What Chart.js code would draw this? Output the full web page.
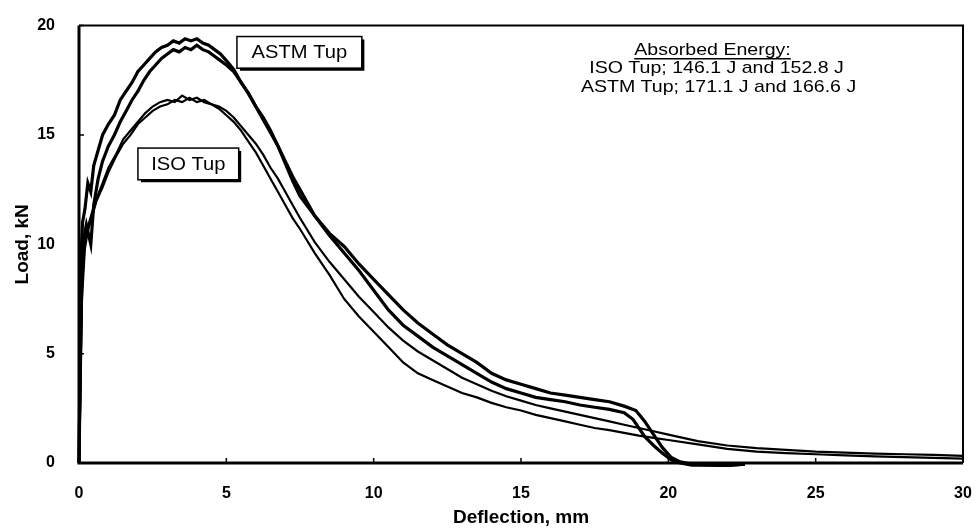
<!DOCTYPE html>
<html>
<head>
<meta charset="utf-8">
<script src="https://cdn.jsdelivr.net/npm/chart.js@4.4.1/dist/chart.umd.min.js"></script>
<style>
  html, body { margin: 0; padding: 0; background: #fff; }
  #wrap { width: 977px; height: 531px; }
</style>
</head>
<body>
<div id="wrap"><canvas id="myChart" width="977" height="531"></canvas></div>
<script>
// load vs deflection curves, two tests per tup

const astmAx = [0, 0.05, 0.08, 0.12, 0.2, 0.3, 0.4, 0.5, 0.65, 0.8, 1.0, 1.2, 1.4, 1.6, 1.8, 2.0, 2.2, 2.4, 2.6, 2.8, 3.0, 3.2, 3.4, 3.6, 3.8, 4.0, 4.2, 4.4, 4.6, 4.8, 5.0, 5.25, 5.5, 5.75, 6.0, 6.25, 6.5, 6.75, 7.0, 7.25, 7.5, 8.0, 8.5, 9.0, 9.5, 10.0, 10.5, 11.0, 11.5, 12.0, 12.5, 13.0, 13.5, 14.0, 14.5, 15.0, 15.5, 16.0, 16.5, 17.0, 17.5, 18.0, 18.5, 18.9, 19.2, 19.5, 19.8, 20.1, 20.4, 20.8, 21.5, 22.0, 22.6];
const astmAy = [0, 6.5, 9.8, 11.0, 11.6, 12.8, 12.4, 13.6, 14.3, 15.0, 15.5, 15.9, 16.6, 17.0, 17.4, 17.9, 18.2, 18.5, 18.8, 19.0, 19.1, 19.3, 19.2, 19.4, 19.3, 19.4, 19.2, 19.1, 18.9, 18.7, 18.4, 18.0, 17.4, 16.9, 16.3, 15.8, 15.2, 14.5, 13.7, 12.9, 12.2, 11.3, 10.5, 9.9, 9.1, 8.4, 7.7, 7.0, 6.4, 5.9, 5.4, 5.0, 4.6, 4.1, 3.8, 3.6, 3.4, 3.2, 3.1, 3.0, 2.9, 2.8, 2.6, 2.4, 1.9, 1.3, 0.7, 0.25, 0.05, -0.05, -0.1, -0.1, -0.05];

const astmBx = [0, 0.05, 0.1, 0.15, 0.25, 0.4, 0.5, 0.65, 0.8, 1.0, 1.2, 1.4, 1.6, 1.8, 2.0, 2.2, 2.4, 2.6, 2.8, 3.0, 3.2, 3.4, 3.6, 3.8, 4.0, 4.2, 4.4, 4.6, 4.8, 5.0, 5.25, 5.5, 5.75, 6.0, 6.25, 6.5, 6.75, 7.0, 7.25, 7.5, 8.0, 8.5, 9.0, 9.5, 10.0, 10.5, 11.0, 11.5, 12.0, 12.5, 13.0, 13.5, 14.0, 14.5, 15.0, 15.5, 16.0, 16.5, 17.0, 17.5, 18.0, 18.5, 18.8, 19.2, 19.5, 19.8, 20.1, 20.4, 20.8, 21.5, 22.0, 22.6];
const astmBy = [0, 5.0, 8.5, 10.2, 10.9, 10.0, 11.8, 13.0, 13.8, 14.5, 15.0, 15.6, 16.1, 16.6, 17.0, 17.5, 17.9, 18.2, 18.5, 18.7, 18.9, 18.8, 19.0, 18.9, 19.1, 18.9, 18.8, 18.6, 18.4, 18.2, 17.9, 17.4, 16.9, 16.3, 15.7, 15.1, 14.5, 13.8, 13.1, 12.5, 11.3, 10.4, 9.6, 8.8, 7.9, 7.0, 6.3, 5.8, 5.3, 4.9, 4.5, 4.1, 3.7, 3.4, 3.2, 3.0, 2.9, 2.8, 2.65, 2.55, 2.45, 2.3, 2.0, 1.2, 0.8, 0.45, 0.15, 0.0, -0.1, -0.1, -0.12, -0.05];

const isoAx = [0, 0.05, 0.1, 0.2, 0.3, 0.45, 0.6, 0.8, 1.0, 1.25, 1.5, 1.75, 2.0, 2.25, 2.5, 2.75, 3.0, 3.25, 3.5, 3.75, 4.0, 4.25, 4.5, 4.75, 5.0, 5.25, 5.5, 5.75, 6.0, 6.25, 6.5, 6.75, 7.0, 7.25, 7.5, 8.0, 8.5, 9.0, 9.5, 10.0, 10.5, 11.0, 11.5, 12.0, 12.5, 13.0, 13.5, 14.0, 14.5, 15.0, 15.5, 16.0, 16.5, 17.0, 17.5, 18.0, 18.5, 19.0, 19.5, 20.0, 21, 22, 23, 24, 25, 26, 27, 28, 29, 30];
const isoAy = [0, 4.0, 8.0, 10.2, 10.8, 11.5, 12.1, 12.8, 13.5, 14.1, 14.8, 15.2, 15.6, 16.0, 16.3, 16.5, 16.6, 16.5, 16.8, 16.6, 16.7, 16.5, 16.4, 16.2, 15.9, 15.6, 15.2, 14.7, 14.2, 13.6, 13.0, 12.4, 11.8, 11.2, 10.7, 9.6, 8.6, 7.5, 6.7, 6.0, 5.3, 4.6, 4.1, 3.8, 3.5, 3.2, 3.0, 2.75, 2.55, 2.4, 2.2, 2.05, 1.9, 1.75, 1.6, 1.5, 1.38, 1.25, 1.15, 1.05, 0.85, 0.65, 0.52, 0.45, 0.4, 0.35, 0.3, 0.27, 0.23, 0.2];

const isoBx = isoAx;
const isoBy = [0, 3.0, 7.5, 9.8, 10.6, 11.3, 12.0, 12.6, 13.3, 14.0, 14.6, 15.0, 15.5, 15.8, 16.1, 16.3, 16.4, 16.6, 16.5, 16.7, 16.5, 16.6, 16.4, 16.3, 16.1, 15.8, 15.4, 15.0, 14.6, 14.1, 13.5, 13.0, 12.4, 11.8, 11.2, 10.1, 9.2, 8.4, 7.6, 6.9, 6.2, 5.6, 5.1, 4.7, 4.3, 3.9, 3.6, 3.3, 3.05, 2.85, 2.65, 2.5, 2.35, 2.2, 2.05, 1.9, 1.75, 1.6, 1.45, 1.3, 1.0, 0.8, 0.68, 0.6, 0.52, 0.47, 0.43, 0.4, 0.37, 0.33];

const xTicks = [0, 5, 10, 15, 20, 25, 30];
const yTicks = [0, 5, 10, 15, 20];

function pts(xs, ys) {
  return xs.map((x, i) => ({ x: x, y: ys[i] }));
}

// the scanned lettering is a bit wider than plain Arial
function wideText(ctx, text, x, y, sx) {
  ctx.save();
  ctx.translate(x, y);
  ctx.scale(sx, 1);
  ctx.fillText(text, 0, 0);
  ctx.restore();
  return ctx.measureText(text).width * sx;
}

// frame, inward ticks and the text boxes
const decor = {
  id: 'decor',
  afterDraw(chart) {
    const ctx = chart.ctx;
    const a = chart.chartArea;
    const xs = chart.scales.x, ys = chart.scales.y;
    ctx.save();
    ctx.strokeStyle = '#000';
    ctx.lineWidth = 2;
    ctx.beginPath();
    ctx.moveTo(a.left, a.top); ctx.lineTo(a.right, a.top); ctx.lineTo(a.right, a.bottom);
    ctx.stroke();
    ctx.lineWidth = 3;
    ctx.beginPath();
    ctx.moveTo(a.left, a.top); ctx.lineTo(a.left, a.bottom); ctx.lineTo(a.right, a.bottom);
    ctx.stroke();
    ctx.lineWidth = 1.5;
    ctx.beginPath();
    xTicks.forEach(v => { const p = xs.getPixelForValue(v); ctx.moveTo(p, a.bottom); ctx.lineTo(p, a.bottom - 5); });
    yTicks.forEach(v => { const p = ys.getPixelForValue(v); ctx.moveTo(a.left, p); ctx.lineTo(a.left + 5, p); });
    ctx.stroke();

    function box(x0, y0, x1, y1, text) {
      const l = xs.getPixelForValue(x0), r = xs.getPixelForValue(x1);
      const t = ys.getPixelForValue(y0), b = ys.getPixelForValue(y1);
      ctx.fillStyle = '#fff';
      ctx.fillRect(l, t, r - l, b - t);
      ctx.lineWidth = 1.5;
      ctx.strokeRect(l, t, r - l, b - t);
      ctx.lineWidth = 3;
      ctx.beginPath();
      ctx.moveTo(r + 1, t + 3); ctx.lineTo(r + 1, b + 1); ctx.lineTo(l + 3, b + 1);
      ctx.stroke();
      ctx.fillStyle = '#000';
      ctx.font = '18px "Liberation Sans", Arial, sans-serif';
      ctx.textAlign = 'center';
      ctx.textBaseline = 'middle';
      wideText(ctx, text, (l + r) / 2, (t + b) / 2 + 1, 1.12);
    }
    box(5.36, 19.5, 9.6, 18.05, 'ASTM Tup');
    box(2.0, 14.4, 5.42, 12.95, 'ISO Tup');

    const cx = xs.getPixelForValue(21.5);
    ctx.font = '17px "Liberation Sans", Arial, sans-serif';
    ctx.textAlign = 'center';
    ctx.textBaseline = 'middle';
    const hy = ys.getPixelForValue(18.85);
    const w = wideText(ctx, 'Absorbed Energy:', cx, hy, 1.15);
    ctx.lineWidth = 1.5;
    ctx.beginPath();
    ctx.moveTo(cx - w / 2, hy + 8); ctx.lineTo(cx + w / 2, hy + 8);
    ctx.stroke();
    wideText(ctx, 'ISO Tup; 146.1 J and 152.8 J', cx + 4, ys.getPixelForValue(18.05), 1.15);
    wideText(ctx, 'ASTM Tup; 171.1 J and 166.6 J', cx + 6, ys.getPixelForValue(17.2), 1.15);
    ctx.restore();
  }
};

const ctx = document.getElementById('myChart');

new Chart(ctx, {
  type: 'scatter',
  data: {
    datasets: [
      { label: 'ASTM Tup 1', data: pts(astmAx, astmAy), borderWidth: 3.2 },
      { label: 'ASTM Tup 2', data: pts(astmBx, astmBy), borderWidth: 3.2 },
      { label: 'ISO Tup 1', data: pts(isoAx, isoAy), borderWidth: 2.2 },
      { label: 'ISO Tup 2', data: pts(isoBx, isoBy), borderWidth: 2.2 }
    ].map(d => Object.assign(d, {
      showLine: true, borderColor: '#000', pointRadius: 0, tension: 0, fill: false, clip: 4
    }))
  },
  options: {
    responsive: false,
    animation: false,
    layout: { padding: { top: 24, right: 0, left: 0, bottom: 0 } },
    plugins: { legend: { display: false }, tooltip: { enabled: false } },
    scales: {
      x: {
        type: 'linear', min: 0, max: 30,
        afterFit: s => { s.height = 68; s.paddingRight = 14; },
        afterBuildTicks: s => { s.ticks = xTicks.map(v => ({ value: v })); },
        grid: { display: false },
        border: { display: false },
        ticks: { color: '#000', padding: 13, font: { family: '"Liberation Sans", Arial', size: 16, weight: 'bold' } },
        title: { display: true, text: 'Deflection, mm', color: '#000', padding: { top: 0, bottom: 2 },
                 font: { family: '"Liberation Sans", Arial', size: 19, weight: 'bold' } }
      },
      y: {
        type: 'linear', min: 0, max: 20,
        afterFit: s => { s.width = 79; },
        afterBuildTicks: s => { s.ticks = yTicks.map(v => ({ value: v })); },
        grid: { display: false },
        border: { display: false },
        ticks: { color: '#000', padding: 16, font: { family: '"Liberation Sans", Arial', size: 16, weight: 'bold' } },
        title: { display: true, text: 'Load, kN', color: '#000', padding: { top: 11, bottom: 0 },
                 font: { family: '"Liberation Sans", Arial', size: 19, weight: 'bold' } }
      }
    }
  },
  plugins: [decor]
});
</script>
</body>
</html>
